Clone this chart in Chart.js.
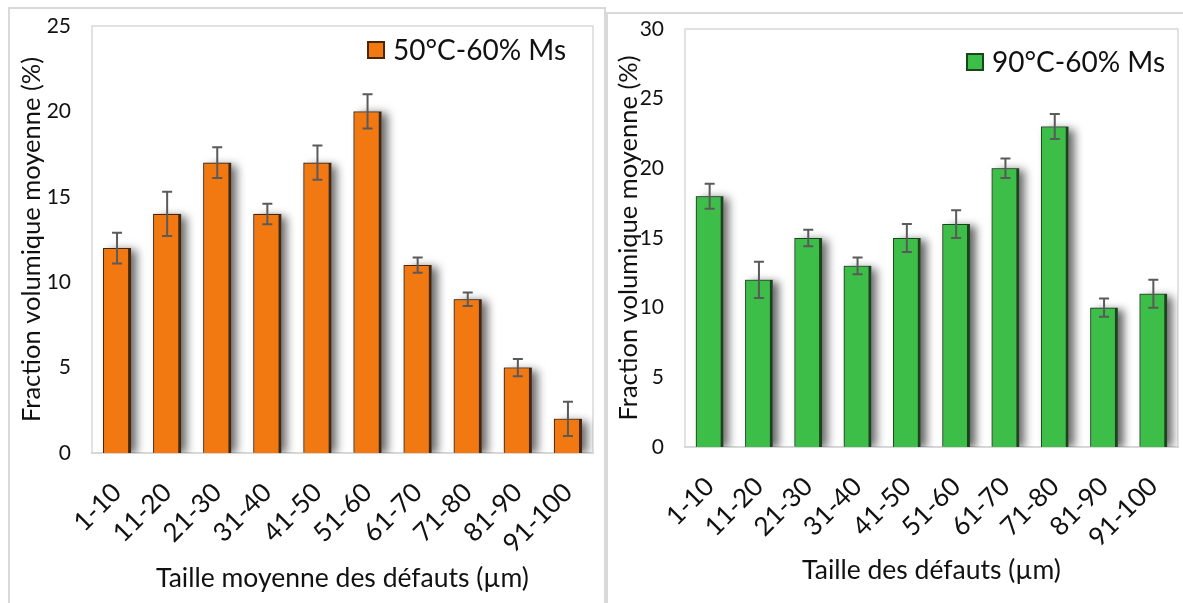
<!DOCTYPE html>
<html><head><meta charset="utf-8">
<script src="https://cdn.jsdelivr.net/npm/chart.js@4"></script>
<style>
html,body{margin:0;padding:0;background:#fff;width:1183px;height:603px;overflow:hidden;position:relative;}
.frame{position:absolute;border:2px solid #d9d9d9;box-sizing:border-box;}
.wrap{position:absolute;top:0;height:603px;}
canvas{display:block;}
</style></head><body>
<div class="frame" style="left:8px;top:7px;width:598px;height:640px"></div>
<div class="frame" style="left:606px;top:12px;width:640px;height:640px"></div>
<div class="wrap" style="left:0;width:606px"><canvas id="c1" width="606" height="603"></canvas></div>
<div class="wrap" style="left:606px;width:577px"><canvas id="c2" width="577" height="603"></canvas></div>
<script>
// ---- data ----
const categories = ['1-10','11-20','21-30','31-40','41-50','51-60','61-70','71-80','81-90','91-100'];
const valuesA = [12, 14, 17, 14, 17, 20, 11, 9, 5, 2];
const errorsA = [0.9, 1.3, 0.9, 0.6, 1.0, 1.0, 0.45, 0.4, 0.5, 1.0];
const valuesB = [18, 12, 15, 13, 15, 16, 20, 23, 10, 11];
const errorsB = [0.9, 1.3, 0.6, 0.6, 1.0, 1.0, 0.7, 0.9, 0.65, 1.0];
const yTicksA = [0, 5, 10, 15, 20, 25];
const yTicksB = [0, 5, 10, 15, 20, 25, 30];
const labelA = '50°C-60% Ms';
const labelB = '90°C-60% Ms';
const xTitleA = 'Taille moyenne des défauts (µm)';
const xTitleB = 'Taille des défauts (µm)';
const yTitle = 'Fraction volumique moyenne (%)';

Chart.defaults.font.family = 'Lato, "Open Sans", sans-serif';
Chart.defaults.color = '#111';

const framePlugin = {
  id: 'frame',
  beforeDatasetsDraw(chart) {
    const a = chart.chartArea, ctx = chart.ctx;
    ctx.save();
    ctx.strokeStyle = '#d9d9d9';
    ctx.lineWidth = 1.5;
    ctx.strokeRect(a.left, a.top, a.right - a.left, a.bottom - a.top);
    ctx.restore();
    // soft shadow behind each bar
    const meta = chart.getDatasetMeta(0);
    ctx.save();
    ctx.beginPath();
    ctx.rect(a.left, a.top, a.right - a.left, a.bottom - a.top);
    ctx.clip();
    ctx.shadowColor = 'rgba(0,0,0,0.6)';
    ctx.shadowBlur = 9;
    ctx.shadowOffsetX = 6;
    ctx.shadowOffsetY = 2;
    ctx.fillStyle = '#777';
    meta.data.forEach(bar => {
      const p = bar.getProps(['x', 'y', 'base', 'width'], true);
      ctx.fillRect(p.x - p.width / 2, p.y, p.width, p.base - p.y - 1);
    });
    ctx.restore();
  },
  afterDatasetsDraw(chart, args, opts) {
    const ctx = chart.ctx;
    const meta = chart.getDatasetMeta(0);
    const ys = chart.scales.y;
    const ds = chart.data.datasets[0];
    ctx.save();
    ctx.strokeStyle = '#5a5a5a';
    ctx.lineWidth = 2;
    meta.data.forEach((bar, i) => {
      const v = ds.data[i], e = opts.errors[i];
      const x = bar.x;
      const yt = ys.getPixelForValue(v + e), yb = ys.getPixelForValue(v - e);
      ctx.beginPath();
      ctx.moveTo(x, yt); ctx.lineTo(x, yb);
      ctx.moveTo(x - 5, yt); ctx.lineTo(x + 5, yt);
      ctx.moveTo(x - 5, yb); ctx.lineTo(x + 5, yb);
      ctx.stroke();
    });
    ctx.restore();
  },
  afterDraw(chart, args, opts) {
    const ctx = chart.ctx, a = chart.chartArea;
    const ds = chart.data.datasets[0];
    ctx.save();
    ctx.font = '28px Lato, "Open Sans", sans-serif';
    const w = ctx.measureText(ds.label).width;
    const tx = a.right - opts.legendRight - w;
    const cy = opts.legendY;
    const bx = tx - 8 - 18;
    ctx.fillStyle = ds.backgroundColor;
    ctx.strokeStyle = ds.borderColor;
    ctx.lineWidth = 2;
    ctx.fillRect(bx, cy - 9, 18, 18);
    ctx.strokeRect(bx + 1, cy - 8, 16, 16);
    ctx.fillStyle = '#111';
    ctx.textBaseline = 'middle';
    ctx.fillText(ds.label, tx, cy + 1);
    ctx.restore();
  }
};

function zeroPad(s) { s.paddingLeft = 0; s.paddingRight = 0; s.paddingTop = 0; s.paddingBottom = 0; }

function makeChart(id, o) {
  return new Chart(document.getElementById(id), {
    type: 'bar',
    data: {
      labels: categories,
      datasets: [{
        label: o.label,
        data: o.values,
        backgroundColor: o.color,
        borderColor: o.edge,
        borderWidth: {left: 1, right: 3, top: 1, bottom: 0},
        borderSkipped: 'bottom',
        barPercentage: 0.56,
        categoryPercentage: 1
      }]
    },
    options: {
      responsive: false,
      animation: false,
      events: [],
      layout: {autoPadding: false, padding: {top: o.top, right: o.right, left: 0, bottom: 0}},
      plugins: {
        legend: {display: false},
        tooltip: {enabled: false},
        frame: {errors: o.errors, legendRight: o.legendRight, legendY: o.legendY}
      },
      scales: {
        x: {
          grid: {display: false},
          border: {display: true, color: '#d4d4d4', width: 2},
          ticks: {font: {size: 26}, color: '#111', minRotation: 45, maxRotation: 45, padding: 16, autoSkip: false},
          title: {display: true, text: o.xTitle, font: {size: 26.5}, color: '#111', padding: {top: 0, bottom: o.xTitlePad}},
          afterFit(s) { s.height = o.xHeight; zeroPad(s); }
        },
        y: {
          min: 0, max: o.max,
          grid: {display: false},
          border: {display: false},
          ticks: {font: {size: 21}, color: '#111', padding: 13},
          afterBuildTicks(s) { s.ticks = o.ticks.map(v => ({value: v})); },
          title: {display: true, text: yTitle, font: {size: 25.5}, color: '#111', padding: {top: o.yTitlePad, bottom: 0}},
          afterFit(s) { s.width = o.yWidth; zeroPad(s); }
        }
      }
    },
    plugins: [framePlugin]
  });
}

makeChart('c1', {
  label: labelA, values: valuesA, errors: errorsA, ticks: yTicksA, max: 25,
  color: '#F27812', edge: '#4a2608', xTitle: xTitleA,
  top: 26, right: 13, xHeight: 150, yWidth: 92, xTitlePad: 9, yTitlePad: 16,
  legendRight: 27, legendY: 50
});
makeChart('c2', {
  label: labelB, values: valuesB, errors: errorsB, ticks: yTicksB, max: 30,
  color: '#3CBE48', edge: '#17461a', xTitle: xTitleB,
  top: 29, right: 5, xHeight: 156, yWidth: 79, xTitlePad: 17, yTitlePad: 7,
  legendRight: 13, legendY: 62
});
</script>
</body></html>
